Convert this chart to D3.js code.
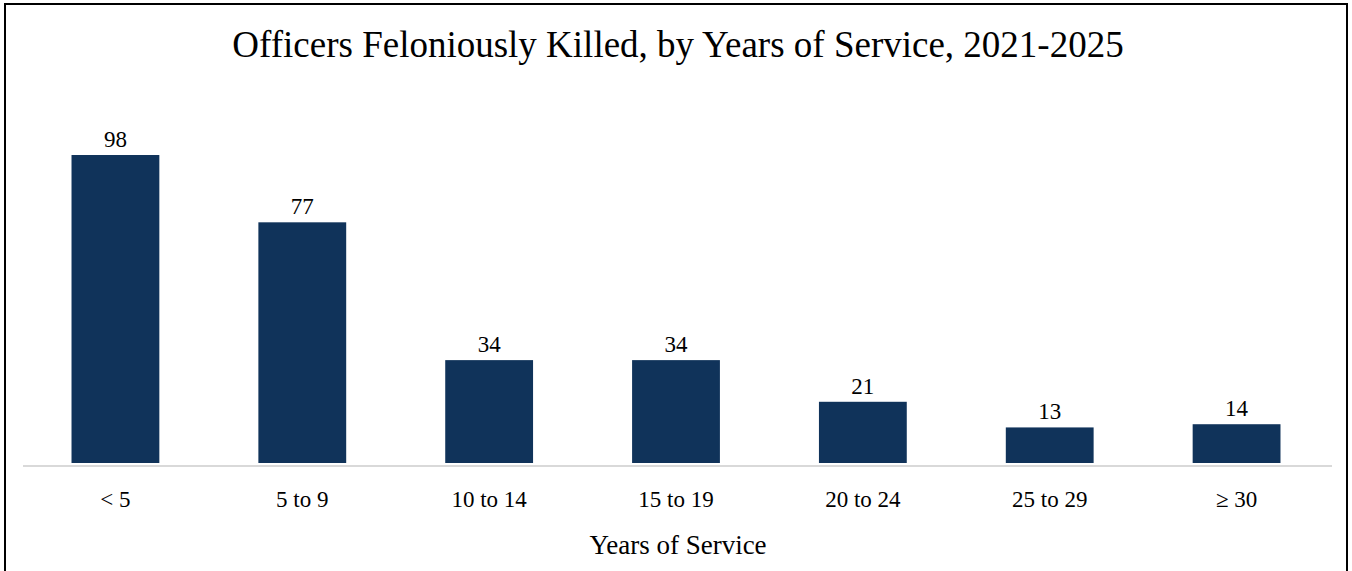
<!DOCTYPE html>
<html>
<head>
<meta charset="utf-8">
<script src="https://cdn.jsdelivr.net/npm/d3@7"></script>
<style>
  html, body { margin: 0; padding: 0; background: #fff; }
  svg { display: block; }
  text { font-family: "Liberation Serif", "Times New Roman", serif; fill: #000; }
</style>
</head>
<body>
<svg id="chart" width="1352" height="571"></svg>
<script>
const categories = ["< 5", "5 to 9", "10 to 14", "15 to 19", "20 to 24", "25 to 29", "\u2265 30"];
const values = [98, 77, 34, 34, 21, 13, 14];
const titleText = "Officers Feloniously Killed, by Years of Service, 2021-2025";
const xAxisTitle = "Years of Service";

const W = 1352, H = 571;
const svg = d3.select("#chart");

// outer frame
svg.append("rect")
  .attr("x", 5).attr("y", 4)
  .attr("width", 1342).attr("height", 620)
  .attr("fill", "#fff").attr("stroke", "#000").attr("stroke-width", 2);

const x = d3.scaleBand()
  .domain(categories)
  .range([22, 1330])
  .paddingInner(0.53)
  .paddingOuter(0.265);

const y = d3.scaleLinear()
  .domain([1.9, 100])
  .range([463, 148.6]);

// title
svg.append("text")
  .attr("x", 678).attr("y", 56.5)
  .attr("text-anchor", "middle")
  .attr("font-size", 37)
  .text(titleText);

// bars
svg.append("g").selectAll("rect")
  .data(values)
  .join("rect")
  .attr("x", (d, i) => x(categories[i]))
  .attr("width", x.bandwidth())
  .attr("y", d => y(d))
  .attr("height", d => y(y.domain()[0]) - y(d))
  .attr("fill", "#10335a");

// value labels
svg.append("g").selectAll("text")
  .data(values)
  .join("text")
  .attr("x", (d, i) => x(categories[i]) + x.bandwidth() / 2)
  .attr("y", d => y(d) - 8)
  .attr("text-anchor", "middle")
  .attr("font-size", 23)
  .text(d => d);

// x axis
const xAxis = d3.axisBottom(x).tickSize(0).tickPadding(0);
const gx = svg.append("g").attr("transform", "translate(0,466)").call(xAxis);
gx.select(".domain").remove();
gx.append("line")
  .attr("x1", 23).attr("x2", 1332)
  .attr("y1", 0).attr("y2", 0)
  .attr("stroke", "#d9d9d9").attr("stroke-width", 2);
gx.selectAll(".tick text")
  .attr("dy", null)
  .attr("y", 41)
  .attr("font-size", 23)
  .attr("font-family", "Liberation Serif, Times New Roman, serif")
  .attr("fill", "#000");

// axis title
svg.append("text")
  .attr("x", 678).attr("y", 554)
  .attr("text-anchor", "middle")
  .attr("font-size", 27)
  .text(xAxisTitle);
</script>
</body>
</html>
